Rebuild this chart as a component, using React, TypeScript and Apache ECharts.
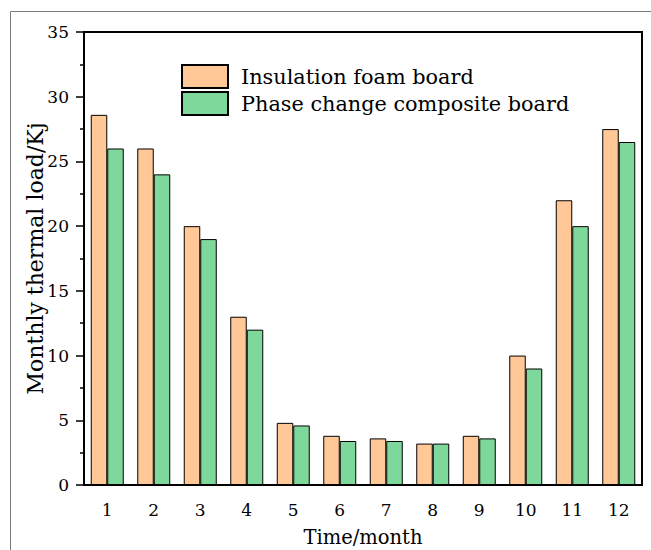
import React, { useEffect, useRef } from "react";
import * as echarts from "echarts";

const months = ["1", "2", "3", "4", "5", "6", "7", "8", "9", "10", "11", "12"];
const foamBoard = [28.6, 26, 20, 13, 4.8, 3.8, 3.6, 3.2, 3.8, 10, 22, 27.5];
const phaseBoard = [26, 24, 19, 12, 4.6, 3.4, 3.4, 3.2, 3.6, 9, 20, 26.5];
const seriesNames = ["Insulation foam board", "Phase change composite board"];

const FONT = "'DejaVu Serif', 'Liberation Serif', serif";

export default function App() {
  const ref = useRef<HTMLDivElement>(null);
  useEffect(() => {
    if (!ref.current) return;
    const chart = echarts.init(ref.current, null, { renderer: "svg" });
    chart.setOption({
      animation: false,
      backgroundColor: "#fff",
      graphic: [
        {
          type: "rect",
          shape: { x: 10.5, y: 11.5, width: 700, height: 600 },
          style: { fill: "none", stroke: "#7a7a7a", lineWidth: 1 },
          silent: true,
          z: -10,
        },
      ],
      grid: {
        left: 84,
        right: 9,
        top: 32,
        bottom: 65,
        outerBoundsMode: "none",
        show: true,
        borderColor: "#000",
        borderWidth: 2,
        backgroundColor: "transparent",
      },
      legend: {
        orient: "vertical",
        left: 181,
        top: 64,
        padding: 0,
        itemWidth: 46,
        itemHeight: 23,
        itemGap: 2,
        icon: "rect",
        textStyle: { fontFamily: FONT, fontSize: 20.8, color: "#000", padding: [0, 0, 0, 8] },
        data: seriesNames,
      },
      xAxis: {
        type: "category",
        data: months,
        name: "Time/month",
        nameLocation: "middle",
        nameGap: 42,
        nameMoveOverlap: false,
        nameTextStyle: { fontFamily: FONT, fontSize: 19.5, color: "#000" },
        axisLine: { lineStyle: { color: "#000", width: 2 } },
        axisTick: { alignWithLabel: true, length: 8, lineStyle: { color: "#000", width: 1.5 } },
        axisLabel: { fontFamily: FONT, fontSize: 17, color: "#000", margin: 16 },
      },
      yAxis: {
        type: "value",
        min: 0,
        max: 35,
        interval: 5,
        name: "Monthly thermal load/Kj",
        nameLocation: "middle",
        nameGap: 38,
        nameMoveOverlap: false,
        nameTextStyle: { fontFamily: FONT, fontSize: 22, color: "#000" },
        axisLine: { show: true, lineStyle: { color: "#000", width: 2 } },
        axisTick: { show: true, length: 8, lineStyle: { color: "#000", width: 1.5 } },
        minorTick: { show: true, splitNumber: 2, length: 4, lineStyle: { color: "#000", width: 1.5 } },
        splitLine: { show: false },
        axisLabel: { fontFamily: FONT, fontSize: 17, color: "#000", margin: 15 },
      },
      series: [
        {
          name: seriesNames[0],
          type: "bar",
          data: foamBoard,
          barWidth: 16.5,
          barGap: "0%",
          itemStyle: { color: "#FFC896", borderColor: "#000", borderWidth: 1 },
        },
        {
          name: seriesNames[1],
          type: "bar",
          data: phaseBoard,
          barWidth: 16.5,
          barGap: "0%",
          itemStyle: { color: "#7FD89B", borderColor: "#000", borderWidth: 1 },
        },
      ],
    });
    return () => chart.dispose();
  }, []);
  return (
    <div
      ref={ref}
      style={{ position: "fixed", left: 0, top: 0, width: 651, height: 550 }}
    />
  );
}
